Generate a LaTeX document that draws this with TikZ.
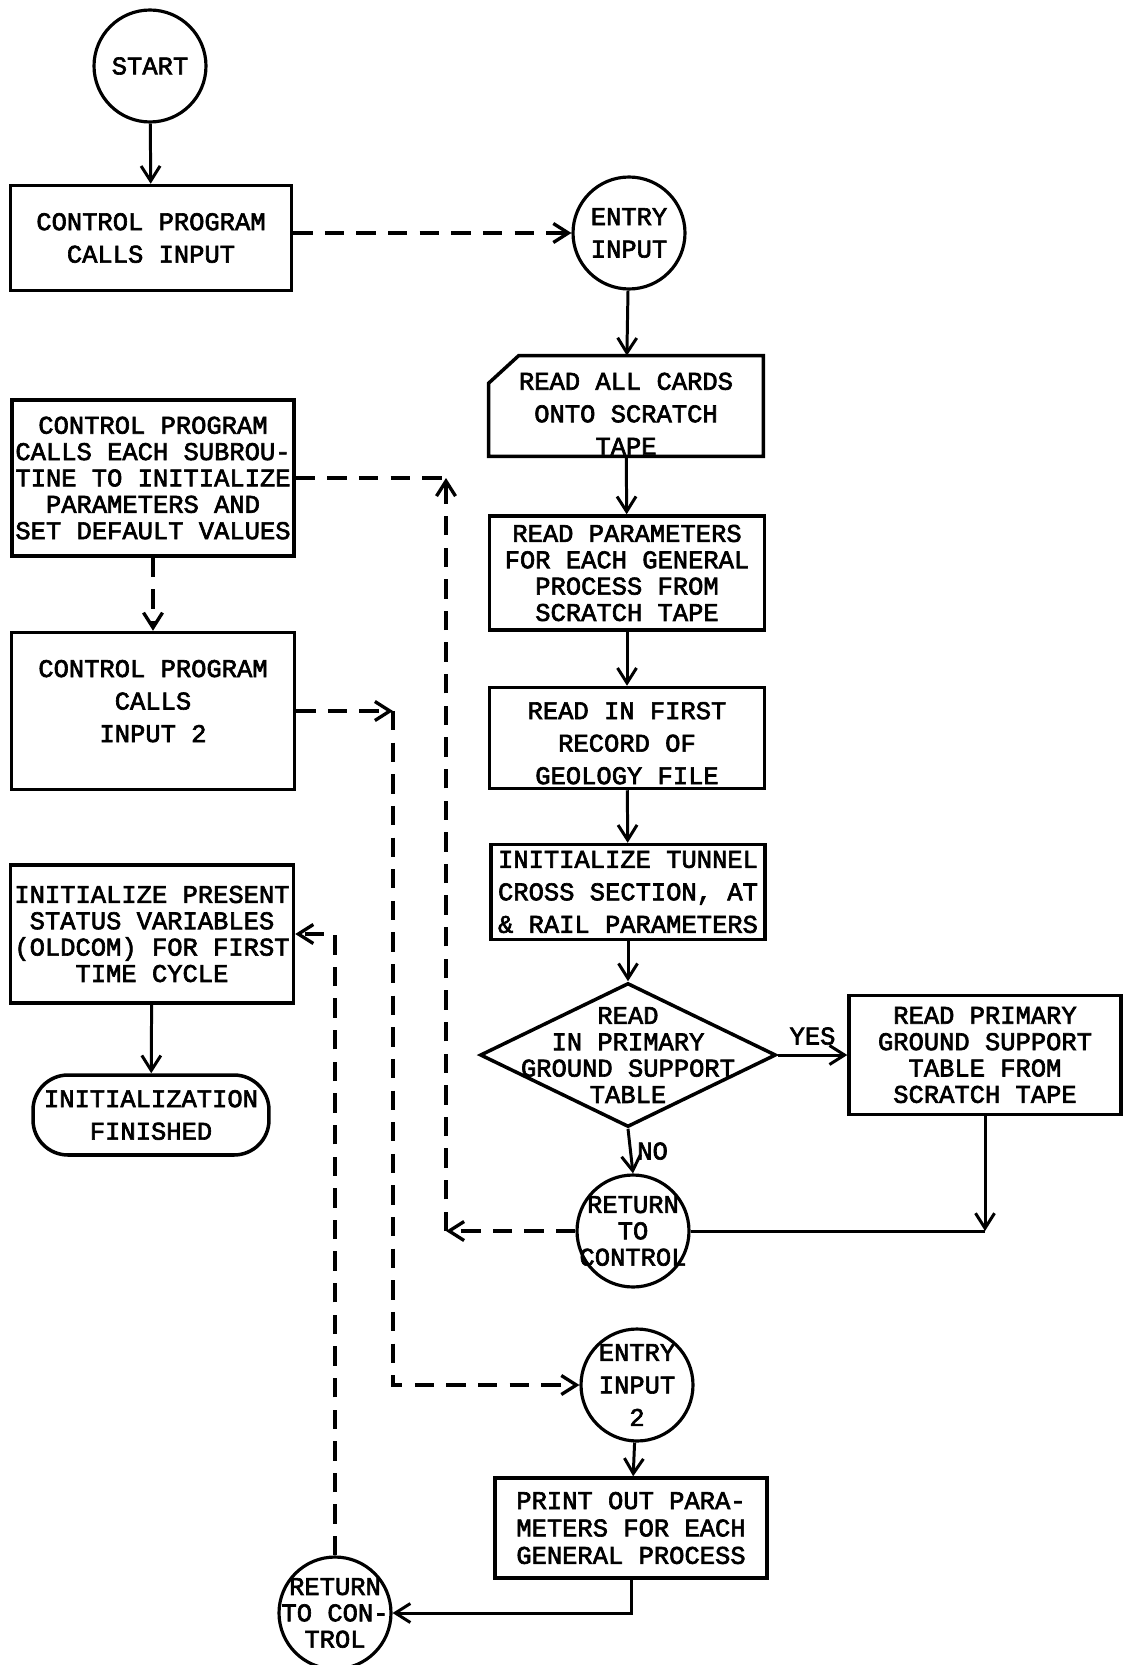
\documentclass[tikz,border=0pt]{standalone}
\usepackage{fontspec}
\setmainfont{Liberation Mono}[FakeBold=2.5]
\usetikzlibrary{calc, positioning}
\usetikzlibrary{arrows.meta}
\usetikzlibrary{shapes.geometric}

\tikzset{
  txt/.style={font=\fontsize{14.5}{15}\selectfont, align=center, inner sep=0pt},
  loose/.style={font=\fontsize{14.5}{18.5}\selectfont},
  box/.style={txt, draw, line width=2pt, rectangle},
  conn/.style={circle, draw, line width=1.8pt, minimum size=2.24cm, inner sep=0pt},
  flow/.style={line width=1.7pt, -{Straight Barb[length=3mm, width=3.8mm]}},
  call/.style={flow, line width=1.9pt, dash pattern=on 11pt off 7pt},
}

\begin{document}
\begin{tikzpicture}[x=0.02cm, y=-0.02cm]
\useasboundingbox (0,0) rectangle (1123,1665);

% left column
\node[conn, label={[txt]center:START}] (start) at (150,66) {};
\node[box, loose, minimum width=5.62cm, minimum height=2.1cm] (callin) at (151,238) {CONTROL PROGRAM\\CALLS INPUT};
\node[box, minimum width=5.64cm, minimum height=3.12cm] (subr) at (153,478) {CONTROL PROGRAM\\CALLS EACH SUBROU-\\TINE TO INITIALIZE\\PARAMETERS AND\\SET DEFAULT VALUES};
\node[box, loose, text depth=0.4cm, minimum width=5.66cm, minimum height=3.14cm] (callii) at (153,711) {CONTROL PROGRAM\\CALLS\\INPUT 2};
\node[box, minimum width=5.66cm, minimum height=2.76cm] (init) at (152,934) {INITIALIZE PRESENT\\STATUS VARIABLES\\(OLDCOM) FOR FIRST\\TIME CYCLE};
\node[box, loose, rounded corners=0.7cm, minimum width=4.72cm, minimum height=1.6cm] (fin) at (151,1115) {INITIALIZATION\\FINISHED};

% right column
\node[conn, label={[txt, loose]center:ENTRY\\INPUT}] (entry) at (629,233) {};
\node[txt, loose, text height=1.95cm, minimum width=5.48cm, minimum height=2cm] (cards) at (626,406) {READ ALL CARDS\\ONTO SCRATCH\\TAPE};
\draw[line width=2pt] ([yshift=-0.55cm]cards.north west) -- ([xshift=0.6cm]cards.north west)
  -- (cards.north east) -- (cards.south east) -- (cards.south west) -- cycle;
\node[box, minimum width=5.5cm, minimum height=2.28cm] (params) at (627,573) {READ PARAMETERS\\FOR EACH GENERAL\\PROCESS FROM\\SCRATCH TAPE};
\node[box, loose, text height=1.85cm, minimum width=5.5cm, minimum height=2.02cm] (first) at (627,738) {READ IN FIRST\\RECORD OF\\GEOLOGY FILE};
\node[box, loose, minimum width=5.48cm, minimum height=1.9cm] (tunnel) at (628,892) {INITIALIZE TUNNEL\\CROSS SECTION, AT\\\& RAIL PARAMETERS};
\node[diamond, draw, line width=2pt, minimum width=5.92cm, minimum height=2.88cm, inner sep=0pt] (dec) at (628,1055) {};
\node[txt] (dectxt) at (dec) {READ\\IN PRIMARY\\GROUND SUPPORT\\TABLE};
\node[box, minimum width=5.44cm, minimum height=2.38cm] (prim) at (985,1055) {READ PRIMARY\\GROUND SUPPORT\\TABLE FROM\\SCRATCH TAPE};
\node[conn, label={[txt]center:RETURN\\TO\\CONTROL}] (ret) at (633,1231) {};
\node[conn, label={[txt, loose]center:ENTRY\\INPUT\\2}] (entryii) at (637,1385) {};
\node[box, minimum width=5.44cm, minimum height=2cm, font=\fontsize{14.5}{15.6}\selectfont] (print) at (631,1528) {PRINT OUT PARA-\\METERS FOR EACH\\GENERAL PROCESS};
\node[conn, label={[txt]center:RETURN\\TO CON-\\TROL}] (retii) at (335,1613) {};

\coordinate (da) at (446,1231);
\coordinate (db) at (393,1385);
\coordinate (cc) at (prim.south |- ret);

% solid flow
\draw[flow] (start) -- (callin);
\draw[flow] (entry) -- (cards);
\draw[flow] (cards) -- (params);
\draw[flow] (params) -- (first);
\draw[flow] (first) -- (tunnel);
\draw[flow] (tunnel) -- (dec);
\draw[flow] (dec.east) -- (dec.east -| prim.west) node[txt, midway, above=5pt] {YES};
\draw[flow] (dec.south) -- (ret.north) node[txt, midway, right=3pt] {NO};
\draw[flow] (prim.south) -- (cc);
\draw[line width=1.7pt] (cc) -- (ret.east);
\draw[flow] (entryii) -- (print);
\draw[flow] (print.south) -- (print.south |- retii) -- (retii.east);
\draw[flow] (init) -- (fin);

% calls and returns
\draw[call] (callin.east |- entry) -- (entry.west);
\draw[call] (subr) -- (callii);
\draw[call] (ret.west) -- (da);
\draw[call] (da) -- (da |- subr.east);
\draw[call, -] (subr.east) -- (subr.east -| da);
\draw[call] (callii.east) -- (callii.east -| db);
\draw[call] (callii.east -| db) -- (db) -- (entryii.west);
\draw[call] (retii.north) -- (retii.north |- init.east) -- (init.east);
\end{tikzpicture}
\end{document}
